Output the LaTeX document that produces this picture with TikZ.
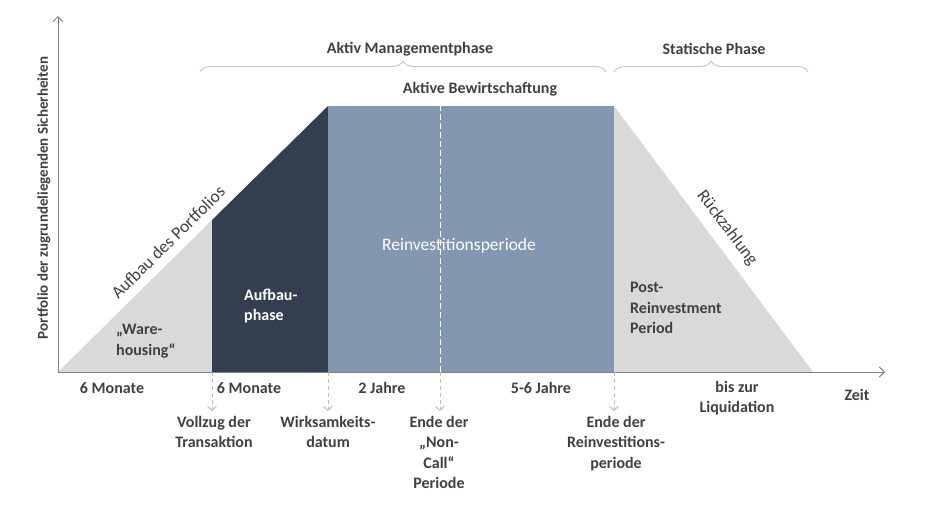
\documentclass[tikz,border=0pt]{standalone}
\usepackage{fontspec}
\setmainfont{Carlito}
\usetikzlibrary{arrows.meta, positioning, decorations.pathreplacing}
\definecolor{buildnavy}{RGB}{51,63,80}
\definecolor{reinvblue}{RGB}{132,151,176}
\definecolor{phasegray}{RGB}{217,217,217}
\definecolor{labelgray}{RGB}{64,64,64}
\definecolor{bracegray}{RGB}{200,200,200}
\definecolor{axisgray}{RGB}{128,128,128}
\definecolor{markgray}{RGB}{190,190,190}

\begin{document}
\begin{tikzpicture}[
        x=1pt, y=-1pt,
        lbl/.style={font=\bfseries\fontsize{16}{20.5}\selectfont, text=labelgray, align=center, inner sep=1pt},
        inlbl/.style={lbl, align=left},
        slopelbl/.style={font=\fontsize{17.5}{20}\selectfont, text=labelgray, inner sep=1pt},
        axis/.style={-{Straight Barb[length=5pt, width=10pt]}, axisgray, line width=1pt},
        marker/.style={markgray, line width=1pt, dash pattern=on 4pt off 3pt, -{Straight Barb[length=4pt, width=9pt]}},
        phasebrace/.style={decorate, decoration={brace, amplitude=11pt}, bracegray, line width=1pt}
    ]
        \useasboundingbox (0,0) rectangle (940,507);
        % corners of the phases
        \coordinate (origin) at (58,372);
        \coordinate (buildlow) at (212,372);
        \coordinate (buildtop) at (212,220);
        \coordinate (peakleft) at (328,106);
        \coordinate (peakright) at (614,106);
        \coordinate (effective) at (328,372);
        \coordinate (noncall) at (440,372);
        \coordinate (reinvend) at (614,372);
        \coordinate (liquid) at (813,372);
        \coordinate (xend) at (885,372);
        \coordinate (yend) at (58,16);

        \fill[phasegray] (origin) -- (buildtop) -- (buildlow) -- cycle;
        \fill[buildnavy] (buildlow) -- (buildtop) -- (peakleft) -- (effective) -- cycle;
        \fill[reinvblue] (effective) rectangle (peakright);
        \fill[phasegray] (reinvend) -- (peakright) -- (liquid) -- cycle;
        \draw[white, line width=1pt, dash pattern=on 6pt off 3pt] (noncall) -- (noncall |- peakleft);

        \draw[axis] (origin) -- (xend);
        \draw[axis] (origin) -- (yend);
        \node[lbl, font=\bfseries\fontsize{15}{18}\selectfont, rotate=90] (yaxis) at (44,198) {Portfolio der zugrundeliegenden Sicherheiten};
        \node[lbl] (zeit) at (857,395) {Zeit};

        % phases above
        \coordinate (activestart) at (200,72);
        \coordinate (activeend) at (606,72);
        \coordinate (staticstart) at (614,72);
        \coordinate (staticend) at (808,72);
        \draw[phasebrace] (activestart) -- (activeend);
        \draw[phasebrace] (staticstart) -- (staticend);
        \node[lbl] (activephase) at (410,49) {Aktiv Managementphase};
        \node[lbl] (staticphase) at (714,49) {Statische Phase};
        \node[lbl] (bewirtschaftung) at (480,89) {Aktive Bewirtschaftung};

        % texts in the areas
        \node[inlbl, anchor=west] (warehousing) at (115,341) {„Ware-\\housing“};
        \node[inlbl, anchor=west, text=white] (aufbauphase) at (243,306) {Aufbau-\\phase};
        \node[slopelbl, text=white] (reinvperiod) at (459,246) {Reinvestitionsperiode};
        \node[inlbl, anchor=west] (postreinv) at (629,308) {Post-\\Reinvestment\\Period};
        \node[slopelbl, rotate=44.6] (aufbauslope) at (168,242) {Aufbau des Portfolios};
        \node[slopelbl, rotate=-53.2] (rueckzahlung) at (727,228) {Rückzahlung};

        % durations
        \node[lbl] (warehousetime) at (112,388) {6 Monate};
        \node[lbl] (buildtime) at (249,388) {6 Monate};
        \node[lbl] (noncalltime) at (382,388) {2 Jahre};
        \node[lbl] (reinvtime) at (541,388) {5-6 Jahre};
        \node[lbl] (liquidtime) at (737,398) {bis zur\\Liquidation};

        % milestones
        \node[lbl, anchor=north] (closing) at (214,415) {Vollzug der\\Transaktion};
        \node[lbl, anchor=north] (effdate) at (328,415) {Wirksamkeits-\\datum};
        \node[lbl, anchor=north] (noncallend) at (439,415) {Ende der\\„Non-\\Call“\\Periode};
        \node[lbl, anchor=north] (reinvendlbl) at (616,415) {Ende der\\Reinvestitions-\\periode};

        \draw[marker, shorten >=4pt] (buildlow) -- (buildlow |- closing.north);
        \draw[marker, shorten >=4pt] (effective) -- (effective |- effdate.north);
        \draw[marker, shorten >=4pt] (noncall) -- (noncall |- noncallend.north);
        \draw[marker, shorten >=4pt] (reinvend) -- (reinvend |- reinvendlbl.north);
    \end{tikzpicture}
\end{document}
